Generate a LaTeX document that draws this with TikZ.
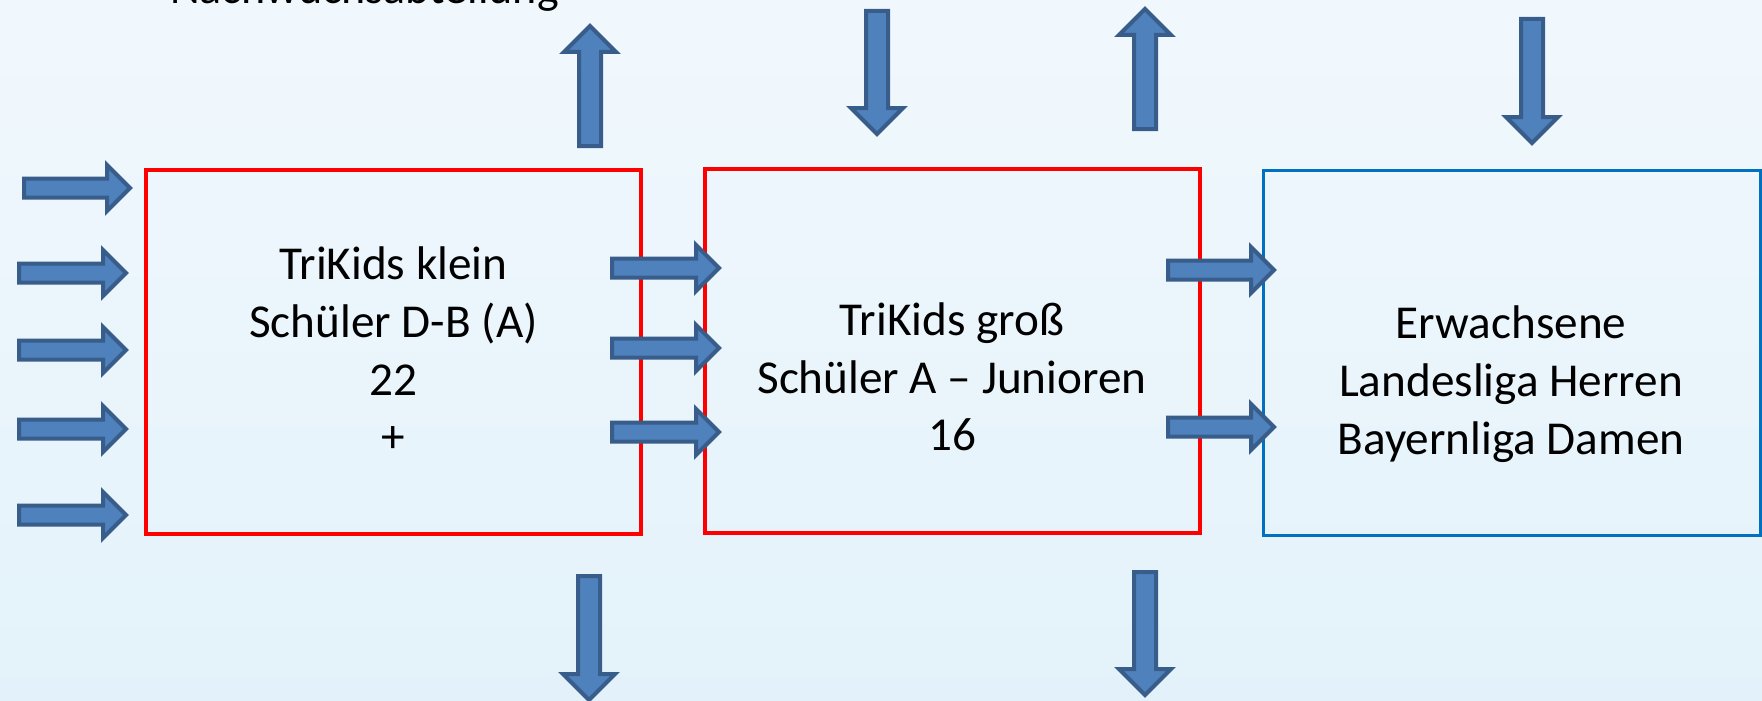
\documentclass[tikz,border=0pt]{standalone}
\usepackage{fontspec}
\setmainfont{Carlito}
\definecolor{arrfill}{HTML}{4F81BD}
\definecolor{arrline}{HTML}{385D8A}
\definecolor{boxred}{HTML}{FF0000}
\definecolor{boxblue}{HTML}{0070C0}
\definecolor{bgtop}{HTML}{F1F8FD}
\definecolor{bgbot}{HTML}{E3F2FA}
\tikzset{
  blockarrow/.style={fill=arrfill, draw=arrline, line width=4pt, line join=miter},
  pics/harr/.style={code={\draw[blockarrow] (0,-9.5) -- (#1-23,-9.5) -- (#1-23,-23) -- (#1,0) -- (#1-23,23) -- (#1-23,9.5) -- (0,9.5) -- cycle;}},
  pics/varr/.style={code={\draw[blockarrow] (0,-11) -- (#1-26,-11) -- (#1-26,-26) -- (#1,0) -- (#1-26,26) -- (#1-26,11) -- (0,11) -- cycle;}},
  redbox/.style={draw=boxred, line width=4pt, minimum width=495pt, minimum height=364pt, inner sep=0pt},
  bluebox/.style={draw=boxblue, line width=3pt, minimum width=497pt, minimum height=365pt, inner sep=0pt},
  boxtext/.style={align=center, inner sep=0pt, font=\fontsize{47.2}{57.7}\selectfont},
}
\begin{document}
\begin{tikzpicture}[x=1pt,y=-1pt]
\clip (0,0) rectangle (1762,701);
\shade[top color=bgtop, bottom color=bgbot] (0,0) rectangle (1762,701);
\node[anchor=base west, inner sep=0pt, font=\fontsize{46}{56}\selectfont] (title) at (170,4) {Nachwuchsabteilung};
% boxes
\node[redbox] (b1) at (393.5,352) {};
\node[redbox] (b2) at (952,350.5) {};
\node[bluebox] (b3) at (1512,353) {};
\node[boxtext] (t1) at (393.5,350) {TriKids klein\\Schüler D-B (A)\\22\\+};
\node[boxtext] (t2) at (952,377) {TriKids groß\\Schüler A – Junioren\\16};
\node[boxtext] (t3) at (1511,384) {Erwachsene\\Landesliga Herren\\Bayernliga Damen};
% left arrows
\pic at (24,188) {harr=106};
\pic at (19,273) {harr=107};
\pic at (19,350) {harr=107};
\pic at (19,429) {harr=107};
\pic at (19,515) {harr=107};
% middle arrows
\pic at (612,268) {harr=107};
\pic at (612,348) {harr=107};
\pic at (612,432) {harr=107};
% right arrows
\pic at (1168,270) {harr=106};
\pic at (1168,427) {harr=106};
% vertical arrows
\pic[rotate=90] at (590,146) {varr=120};
\pic[rotate=-90] at (877,11) {varr=123};
\pic[rotate=90] at (1145,129) {varr=120};
\pic[rotate=-90] at (1532,19) {varr=124};
\pic[rotate=-90] at (589,576) {varr=124};
\pic[rotate=-90] at (1145,572) {varr=123};
\end{tikzpicture}
\end{document}
